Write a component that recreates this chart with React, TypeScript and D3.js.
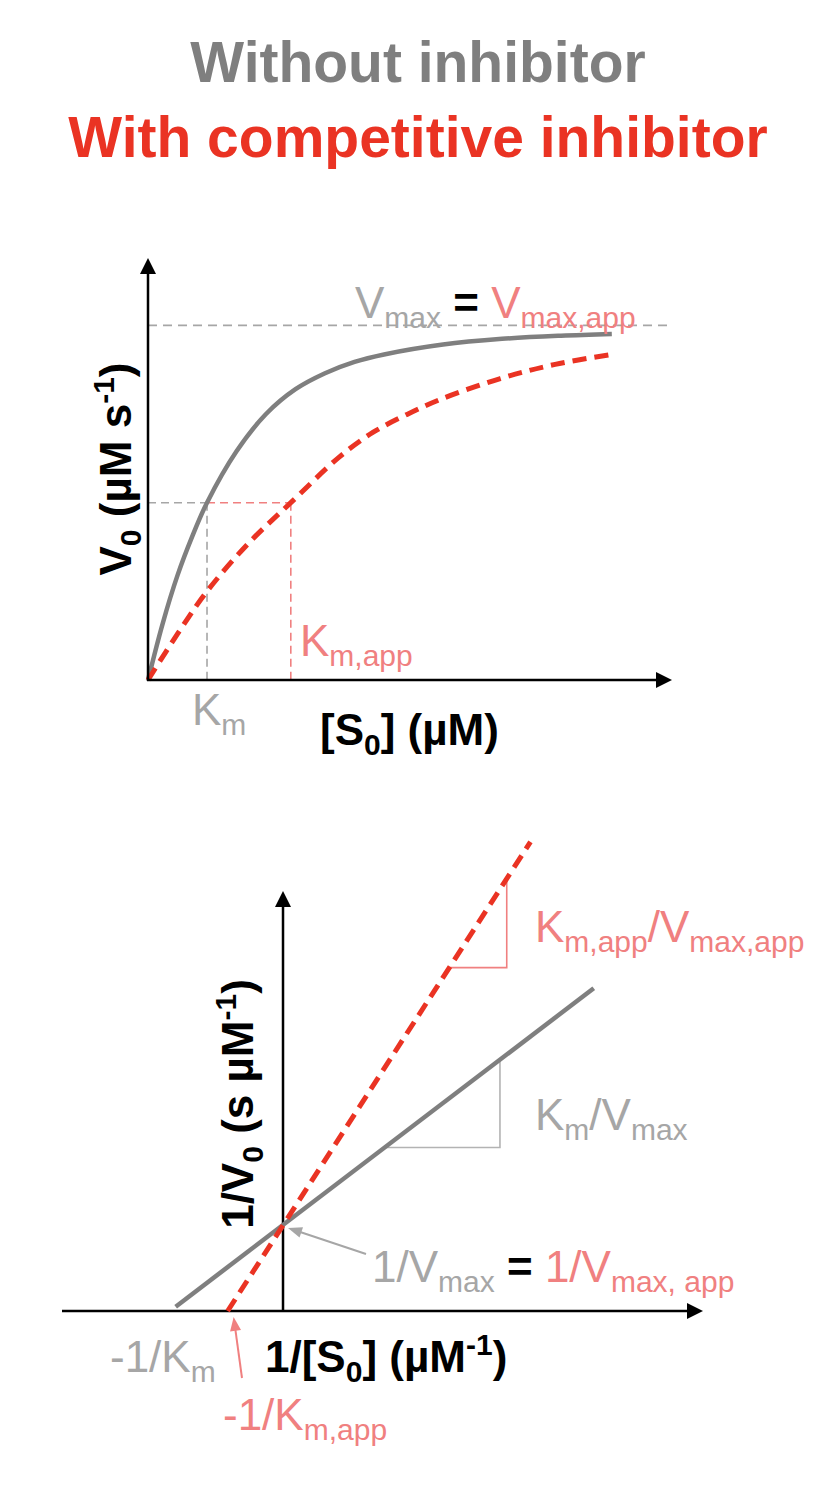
import * as d3 from 'd3';

// Titles
const TITLE_LINES = ['Without inhibitor', 'With competitive inhibitor'];

// Saturation curves: [S0] in units of Km, V0 in units of Vmax
const curveS = [0, 0.25, 0.5, 0.75, 1, 1.5, 2, 2.5, 3, 3.5, 4, 5, 6, 7, 7.86];
const curveV = [0, 0.16, 0.295, 0.405, 0.5, 0.645, 0.75, 0.82, 0.865, 0.897, 0.918, 0.946, 0.962, 0.971, 0.976];
const inhS = [0, 0.5, 1, 1.7, 2.42, 3.25, 3.81, 4.39, 4.95, 5.97, 6.9, 7.86];
const inhV = [0, 0.13, 0.25, 0.385, 0.5, 0.63, 0.698, 0.749, 0.791, 0.85, 0.89, 0.918];
const KM = 1;
const KM_APP = 2.42;
const VMAX = 1;

// Double-reciprocal lines: 1/[S0] vs 1/V0
const lbX = [-0.95, 2.75];
const lbY = [0.05, 3.75];
const lbInhX = [-0.49, 2.19];
const lbInhY = [0, 5.45];
// slope triangles
const triX = [0.9, 1.92];
const triY = [1.9, 2.92];
const triInhX = [1.47, 1.98];
const triInhY = [3.99, 5.0];
const INV_VMAX = 1;
const INV_KM_APP = -0.49;

const GREY = '#7f7f7f';
const LIGHT_GREY = '#a6a6a6';
const RED = '#ea3323';
const PINK = '#f08080';
const FONT = '"Liberation Sans", Arial, Helvetica, sans-serif';

type Part = { t: string; c?: string; s?: 'sub' | 'sup'; b?: boolean };

const Rich = ({ x, y, parts, size = 44, sub = 30, anchor = 'start', rotate = false, bold = false }:
  { x: number; y: number; parts: Part[]; size?: number; sub?: number; anchor?: string; rotate?: boolean; bold?: boolean }) => {
  let cur = 0;
  const spans = parts.map((p, i) => {
    const shift = p.s === 'sub' ? 10 : p.s === 'sup' ? -17 : 0;
    const dy = shift - cur;
    cur = shift;
    return (
      <tspan key={i} dy={dy} fill={p.c} fontSize={p.s ? sub : size}
        fontWeight={p.b ?? bold ? 'bold' : 'normal'}>{p.t}</tspan>
    );
  });
  return (
    <text transform={rotate ? `translate(${x},${y}) rotate(-90)` : `translate(${x},${y})`}
      textAnchor={anchor} fontFamily={FONT} fontSize={size}>
      {spans}
    </text>
  );
};

// filled arrow head with tip at (x,y) pointing along angle (radians)
const head = (x: number, y: number, ang: number, len: number, w: number) => {
  const bx = x - len * Math.cos(ang), by = y - len * Math.sin(ang);
  const px = (w / 2) * -Math.sin(ang), py = (w / 2) * Math.cos(ang);
  return `M${x},${y}L${bx + px},${by + py}L${bx - px},${by - py}Z`;
};

const App = () => {
  // top panel scales
  const x = d3.scaleLinear().domain([0, 8.88]).range([148, 672]);
  const y = d3.scaleLinear().domain([0, 1.19]).range([680, 258]);
  // bottom panel scales
  const xL = d3.scaleLinear().domain([-1.956, 3.717]).range([62, 703]);
  const yL = d3.scaleLinear().domain([0, 4.88]).range([1311, 891]);

  const curve = d3.line<[number, number]>().x(d => x(d[0])).y(d => y(d[1])).curve(d3.curveCatmullRom.alpha(0.5));
  const lbLine = d3.line<[number, number]>().x(d => xL(d[0])).y(d => yL(d[1]));

  const [x0, x1] = x.range();
  const [y0, y1] = y.range();
  const [lx0, lx1] = xL.range();
  const [ly0, ly1] = yL.range();

  const gArrowTip: [number, number] = [xL(0) + 5, yL(INV_VMAX) + 3];
  const gArrowTail: [number, number] = [366, 1254];
  const gAng = Math.atan2(gArrowTip[1] - gArrowTail[1], gArrowTip[0] - gArrowTail[0]);
  const rArrowTip: [number, number] = [xL(INV_KM_APP) + 6, yL(0) + 6];
  const rArrowTail: [number, number] = [242, 1378];
  const rAng = Math.atan2(rArrowTip[1] - rArrowTail[1], rArrowTip[0] - rArrowTail[0]);

  return (
    <svg width={836} height={1486} style={{ position: 'absolute', left: 0, top: 0, background: '#fff' }}>
      {/* titles */}
      <text x={418} y={82} textAnchor="middle" fontFamily={FONT} fontWeight="bold" fontSize={57} fill={GREY}>{TITLE_LINES[0]}</text>
      <text x={418} y={157} textAnchor="middle" fontFamily={FONT} fontWeight="bold" fontSize={57} fill={RED}>{TITLE_LINES[1]}</text>

      {/* ---- V0 vs [S0] ---- */}
      <line x1={x0} x2={x1} y1={y(VMAX)} y2={y(VMAX)} stroke={LIGHT_GREY} strokeWidth={1.6} strokeDasharray="9 6" />
      <line x1={x0} x2={x(KM)} y1={y(VMAX / 2)} y2={y(VMAX / 2)} stroke={LIGHT_GREY} strokeWidth={1.6} strokeDasharray="8 5" />
      <line x1={x(KM)} x2={x(KM_APP)} y1={y(VMAX / 2)} y2={y(VMAX / 2)} stroke={PINK} strokeWidth={1.6} strokeDasharray="8 5" />
      <line x1={x(KM)} x2={x(KM)} y1={y(VMAX / 2)} y2={y0} stroke={LIGHT_GREY} strokeWidth={1.6} strokeDasharray="8 5" />
      <line x1={x(KM_APP)} x2={x(KM_APP)} y1={y(VMAX / 2)} y2={y0} stroke={PINK} strokeWidth={1.6} strokeDasharray="8 5" />

      <path d={curve(d3.zip(curveS, curveV) as [number, number][]) || ''} fill="none" stroke={GREY} strokeWidth={4.5} />
      <path d={curve(d3.zip(inhS, inhV) as [number, number][]) || ''} fill="none" stroke={RED} strokeWidth={5} strokeDasharray="14 8" />

      <line x1={x0} x2={x0} y1={y0 + 1} y2={y1 + 14} stroke="#000" strokeWidth={2.5} />
      <path d={head(x0, y1, -Math.PI / 2, 16, 16)} fill="#000" />
      <line x1={x0 - 1} x2={x1 - 14} y1={y0} y2={y0} stroke="#000" strokeWidth={2.5} />
      <path d={head(x1, y0, 0, 16, 16)} fill="#000" />

      <Rich x={355} y={318} parts={[{ t: 'V', c: LIGHT_GREY }, { t: 'max', s: 'sub', c: LIGHT_GREY }, { t: ' = ', c: '#000', b: true }, { t: 'V', c: PINK }, { t: 'max,app', s: 'sub', c: PINK }]} />
      <Rich x={300} y={656} parts={[{ t: 'K', c: PINK }, { t: 'm,app', s: 'sub', c: PINK }]} />
      <Rich x={192} y={725} parts={[{ t: 'K', c: LIGHT_GREY }, { t: 'm', s: 'sub', c: LIGHT_GREY }]} />
      <Rich x={320} y={745} bold parts={[{ t: '[S', c: '#000' }, { t: '0', s: 'sub', c: '#000' }, { t: '] (µM)', c: '#000' }]} />
      <Rich x={131} y={(y0 + y1) / 2} rotate anchor="middle" bold parts={[{ t: 'V', c: '#000' }, { t: '0', s: 'sub', c: '#000' }, { t: ' (µM s', c: '#000' }, { t: '-1', s: 'sup', c: '#000' }, { t: ')', c: '#000' }]} />

      {/* ---- Lineweaver–Burk ---- */}
      <line x1={lx0} x2={lx1 - 14} y1={ly0} y2={ly0} stroke="#000" strokeWidth={2.5} />
      <path d={head(lx1, ly0, 0, 16, 16)} fill="#000" />
      <line x1={xL(0)} x2={xL(0)} y1={ly0} y2={ly1 + 14} stroke="#000" strokeWidth={2.5} />
      <path d={head(xL(0), ly1, -Math.PI / 2, 16, 16)} fill="#000" />

      <path d={lbLine([[triX[0], triY[0]], [triX[1], triY[0]], [triX[1], triY[1]]]) || ''} fill="none" stroke="#b3b3b3" strokeWidth={1.6} />
      <path d={lbLine([[triInhX[0], triInhY[0]], [triInhX[1], triInhY[0]], [triInhX[1], triInhY[1]]]) || ''} fill="none" stroke={PINK} strokeWidth={1.6} />

      <path d={lbLine(d3.zip(lbX, lbY) as [number, number][]) || ''} fill="none" stroke={GREY} strokeWidth={4.5} />
      <path d={lbLine(d3.zip(lbInhX, lbInhY) as [number, number][]) || ''} fill="none" stroke={RED} strokeWidth={5} strokeDasharray="14 8" />

      <line x1={gArrowTail[0]} y1={gArrowTail[1]} x2={gArrowTip[0] - 12 * Math.cos(gAng)} y2={gArrowTip[1] - 12 * Math.sin(gAng)} stroke={LIGHT_GREY} strokeWidth={2} />
      <path d={head(gArrowTip[0], gArrowTip[1], gAng, 14, 11)} fill={LIGHT_GREY} />
      <line x1={rArrowTail[0]} y1={rArrowTail[1]} x2={rArrowTip[0] - 12 * Math.cos(rAng)} y2={rArrowTip[1] - 12 * Math.sin(rAng)} stroke={PINK} strokeWidth={2} />
      <path d={head(rArrowTip[0], rArrowTip[1], rAng, 14, 11)} fill={PINK} />

      <Rich x={535} y={942} parts={[{ t: 'K', c: PINK }, { t: 'm,app', s: 'sub', c: PINK }, { t: '/V', c: PINK }, { t: 'max,app', s: 'sub', c: PINK }]} />
      <Rich x={535} y={1130} parts={[{ t: 'K', c: LIGHT_GREY }, { t: 'm', s: 'sub', c: LIGHT_GREY }, { t: '/V', c: LIGHT_GREY }, { t: 'max', s: 'sub', c: LIGHT_GREY }]} />
      <Rich x={372} y={1282} parts={[{ t: '1/V', c: LIGHT_GREY }, { t: 'max', s: 'sub', c: LIGHT_GREY }, { t: ' = ', c: '#000', b: true }, { t: '1/V', c: PINK }, { t: 'max, app', s: 'sub', c: PINK }]} />
      <Rich x={110} y={1372} parts={[{ t: '-1/K', c: LIGHT_GREY }, { t: 'm', s: 'sub', c: LIGHT_GREY }]} />
      <Rich x={223} y={1430} parts={[{ t: '-1/K', c: PINK }, { t: 'm,app', s: 'sub', c: PINK }]} />
      <Rich x={265} y={1372} bold parts={[{ t: '1/[S', c: '#000' }, { t: '0', s: 'sub', c: '#000' }, { t: '] (µM', c: '#000' }, { t: '-1', s: 'sup', c: '#000' }, { t: ')', c: '#000' }]} />
      <Rich x={253} y={(ly0 + ly1) / 2 + 3} rotate anchor="middle" bold parts={[{ t: '1/V', c: '#000' }, { t: '0', s: 'sub', c: '#000' }, { t: ' (s µM', c: '#000' }, { t: '-1', s: 'sup', c: '#000' }, { t: ')', c: '#000' }]} />
    </svg>
  );
};

export default App;
